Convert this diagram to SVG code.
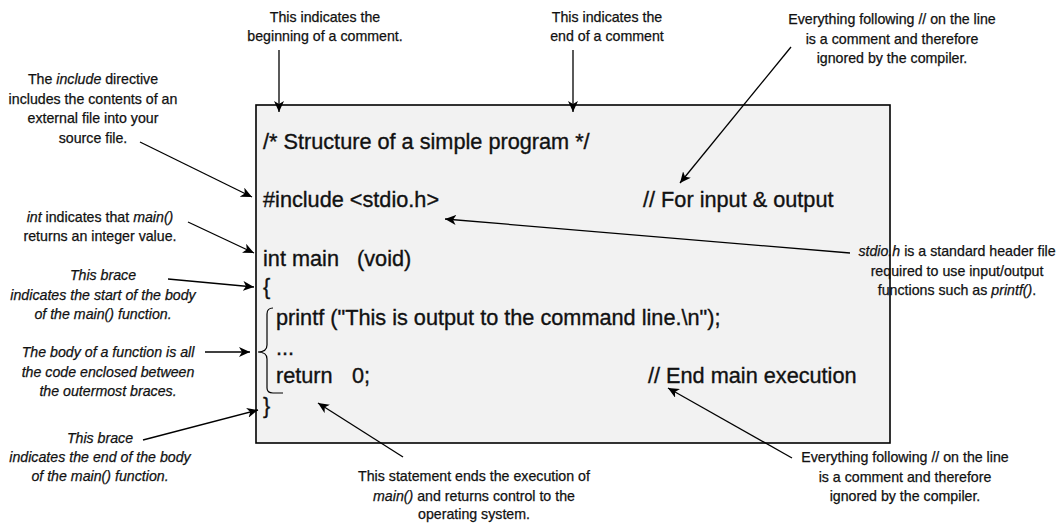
<svg xmlns="http://www.w3.org/2000/svg" width="1062" height="523" viewBox="0 0 1062 523">
<defs>
<marker id="ah" markerUnits="userSpaceOnUse" markerWidth="12" markerHeight="10" refX="11" refY="5" orient="auto">
<path d="M0,0 L11,5 L0,10 L3,5 Z" fill="#000"/>
</marker>
<style>
.code{font-family:"Liberation Sans",Arial,sans-serif;font-size:21.7px;fill:#111;stroke:#111;stroke-width:0.35px}
.note{font-family:"Liberation Sans",Arial,sans-serif;font-size:14.2px;fill:#111;stroke:#111;stroke-width:0.25px;text-anchor:middle}
.it{font-style:italic}
.conn line{stroke:#000;stroke-width:1.3;marker-end:url(#ah)}
</style>
</defs>
<rect width="1062" height="523" fill="#fff"/>
<g id="codebox">
<rect x="256" y="105" width="634" height="338" fill="#f2f2f2" stroke="#000" stroke-width="1.6"/>
<text class="code" x="263" y="149">/* Structure of a simple program */</text>
<text class="code" x="263" y="207">#include &lt;stdio.h&gt;</text>
<text class="code" x="643" y="207">// For input &amp; output</text>
<text class="code" x="263" y="266">int main<tspan x="357">(void)</tspan></text>
<text class="code" x="263" y="294">{</text>
<text class="code" x="276" y="325">printf ("This is output to the command line.\n");</text>
<text class="code" x="276" y="355">...</text>
<text class="code" x="276" y="383">return<tspan x="352">0;</tspan></text>
<text class="code" x="648" y="383">// End main execution</text>
<text class="code" x="263" y="413">}</text>
<path d="M273,308 Q267,308 267,314 L267,345 Q267,352 258,352 Q267,352 267,359 L267,388 Q267,393 273,393 L283,393" fill="none" stroke="#000" stroke-width="1.2"/>
</g>
<g id="note-begin">
<text class="note" x="325" y="21.5">This indicates the</text>
<text class="note" x="325" y="41">beginning of a comment.</text>
</g>
<g id="note-end">
<text class="note" x="607" y="21.5">This indicates the</text>
<text class="note" x="607" y="41">end of a comment</text>
</g>
<g id="note-line-comment-top">
<text class="note" x="892" y="24">Everything following // on the line</text>
<text class="note" x="892" y="43.5">is a comment and therefore</text>
<text class="note" x="892" y="63">ignored by the compiler.</text>
</g>
<g id="note-include">
<text class="note" x="93" y="84">The <tspan class="it">include</tspan> directive</text>
<text class="note" x="93" y="103.5">includes the contents of an</text>
<text class="note" x="93" y="123">external file into your</text>
<text class="note" x="93" y="142.5">source file.</text>
</g>
<g id="note-int">
<text class="note" x="100" y="222"><tspan class="it">int</tspan> indicates that <tspan class="it">main()</tspan></text>
<text class="note" x="100" y="241">returns an integer value.</text>
</g>
<g id="note-brace-start">
<text class="note it" x="103" y="280">This brace</text>
<text class="note it" x="103" y="300">indicates the start of the body</text>
<text class="note it" x="103" y="319">of the main() function.</text>
</g>
<g id="note-body">
<text class="note it" x="108" y="357">The body of a function is all</text>
<text class="note it" x="108" y="376.5">the code enclosed between</text>
<text class="note it" x="108" y="396">the outermost braces.</text>
</g>
<g id="note-brace-end">
<text class="note it" x="100" y="443">This brace</text>
<text class="note it" x="100" y="462">indicates the end of the body</text>
<text class="note it" x="100" y="481">of the main() function.</text>
</g>
<g id="note-return">
<text class="note" x="474" y="481">This statement ends the execution of</text>
<text class="note" x="474" y="500.5"><tspan class="it">main()</tspan> and returns control to the</text>
<text class="note" x="474" y="519">operating system.</text>
</g>
<g id="note-line-comment-bottom">
<text class="note" x="905" y="462">Everything following // on the line</text>
<text class="note" x="905" y="481.5">is a comment and therefore</text>
<text class="note" x="905" y="501">ignored by the compiler.</text>
</g>
<g id="note-stdio">
<text class="note" x="957" y="256"><tspan class="it">stdio.h</tspan> is a standard header file</text>
<text class="note" x="957" y="275.5">required to use input/output</text>
<text class="note" x="957" y="295">functions such as <tspan class="it">printf()</tspan>.</text>
</g>
<g id="connectors" class="conn">
<line x1="279" y1="50" x2="279" y2="112"/>
<line x1="573" y1="50" x2="573" y2="112"/>
<line x1="791" y1="47" x2="680" y2="183"/>
<line x1="140" y1="142" x2="252" y2="197"/>
<line x1="188" y1="222" x2="254" y2="253"/>
<line x1="168" y1="279" x2="254" y2="287"/>
<line x1="205" y1="352" x2="250" y2="352"/>
<line x1="143" y1="440" x2="258" y2="410"/>
<line x1="850" y1="253" x2="445" y2="219"/>
<line x1="403" y1="457" x2="318" y2="403"/>
<line x1="792" y1="458" x2="668" y2="388"/>
</g>
</svg>
